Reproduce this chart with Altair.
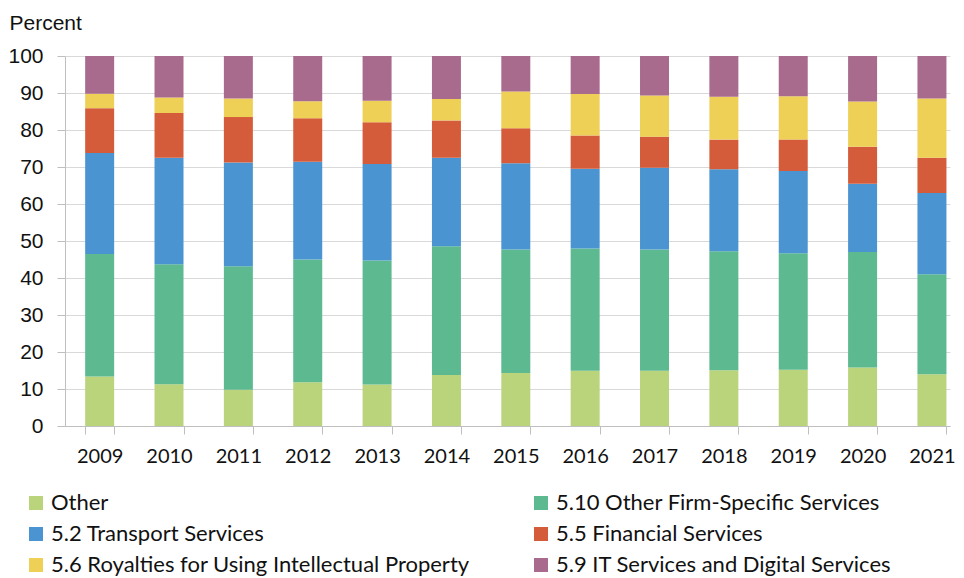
import altair as alt
import pandas as pd

years = ["2009", "2010", "2011", "2012", "2013", "2014", "2015",
         "2016", "2017", "2018", "2019", "2020", "2021"]
series = ["Other", "5.10 Other Firm-Specific Services", "5.2  Transport Services",
          "5.5 Financial Services", "5.6 Royalties for Using Intellectual Property",
          "5.9 IT Services and Digital Services"]
other = [13.4, 11.3, 9.8, 11.8, 11.2, 13.8, 14.3, 14.9, 14.9, 15.1, 15.2, 15.8, 14.0]
firm_specific = [33.1, 32.4, 33.4, 33.2, 33.5, 34.8, 33.4, 33.1, 32.8, 32.1, 31.5, 31.2, 27.0]
transport = [27.3, 28.8, 28.0, 26.4, 26.1, 23.9, 23.3, 21.5, 22.1, 22.2, 22.2, 18.5, 22.0]
financial = [12.1, 12.1, 12.3, 11.8, 11.3, 10.1, 9.5, 9.0, 8.4, 8.0, 8.5, 10.0, 9.5]
royalties = [3.9, 4.2, 5.0, 4.6, 5.8, 5.8, 9.9, 11.2, 11.1, 11.6, 11.7, 12.2, 16.0]
it_digital = [10.2, 11.2, 11.5, 12.2, 12.1, 11.6, 9.6, 10.3, 10.7, 11.0, 10.9, 12.3, 11.5]
colors = ["#bad47c", "#5cb990", "#4a95d1", "#d55c3a", "#edd055", "#a96b8d"]
# legend entries fill column by column: Other, 5.2, 5.6 | 5.10, 5.5, 5.9
legend_order = [0, 2, 4, 1, 3, 5]
y_ticks = [0, 10, 20, 30, 40, 50, 60, 70, 80, 90, 100]

values = [other, firm_specific, transport, financial, royalties, it_digital]
rows = []
for si, (name, vals) in enumerate(zip(series, values)):
    for yr, v in zip(years, vals):
        rows.append({"year": yr, "series": name, "value": v, "order": si})
df = pd.DataFrame(rows)

legend_domain = [series[i] for i in legend_order]
legend_colors = [colors[i] for i in legend_order]

chart = alt.Chart(df).mark_bar(clip=True).encode(
    x=alt.X("year:N", sort=years,
            scale=alt.Scale(paddingInner=0.582, paddingOuter=0.171, align=0.85),
            axis=alt.Axis(title=None, labelAngle=0, tickBand="extent",
                          labelFont="Lato", labelFontSize=20, labelColor="#111111",
                          labelPadding=12, tickSize=8, tickColor="#bfbfbf",
                          domainColor="#bfbfbf", grid=False)),
    y=alt.Y("value:Q", stack="zero",
            scale=alt.Scale(domain=[0, 100], nice=False),
            axis=alt.Axis(values=y_ticks, title="Percent", titleAngle=0,
                          titleX=-56, titleY=-27, titleAlign="left",
                          titleBaseline="alphabetic", titleFont="Liberation Sans",
                          titleFontSize=21, titleFontWeight="normal", titleColor="#111111",
                          labelFont="Liberation Sans", labelFontSize=21,
                          labelColor="#111111", labelPadding=14, tickSize=8,
                          tickColor="#bfbfbf", domainColor="#bfbfbf",
                          gridColor="#d9d9d9", gridWidth=1)),
    color=alt.Color("series:N",
                    scale=alt.Scale(domain=legend_domain, range=legend_colors),
                    legend=alt.Legend(title=None, orient="none", legendX=-40, legendY=436,
                                      columns=2, columnPadding=60, rowPadding=9,
                                      symbolType="square", symbolSize=196,
                                      symbolStrokeWidth=0, labelFont="Lato",
                                      labelFontSize=22, labelColor="#111111",
                                      labelOffset=4, labelLimit=600, padding=0)),
    order=alt.Order("order:Q", sort="ascending"),
).properties(
    width=885, height=370,
    autosize=alt.AutoSizeParams(type="none"),
    padding={"left": 57, "top": 48, "right": 6, "bottom": 152},
).configure_view(stroke=None)

chart.save("out.html", embed_options={"renderer": "svg", "actions": False})
